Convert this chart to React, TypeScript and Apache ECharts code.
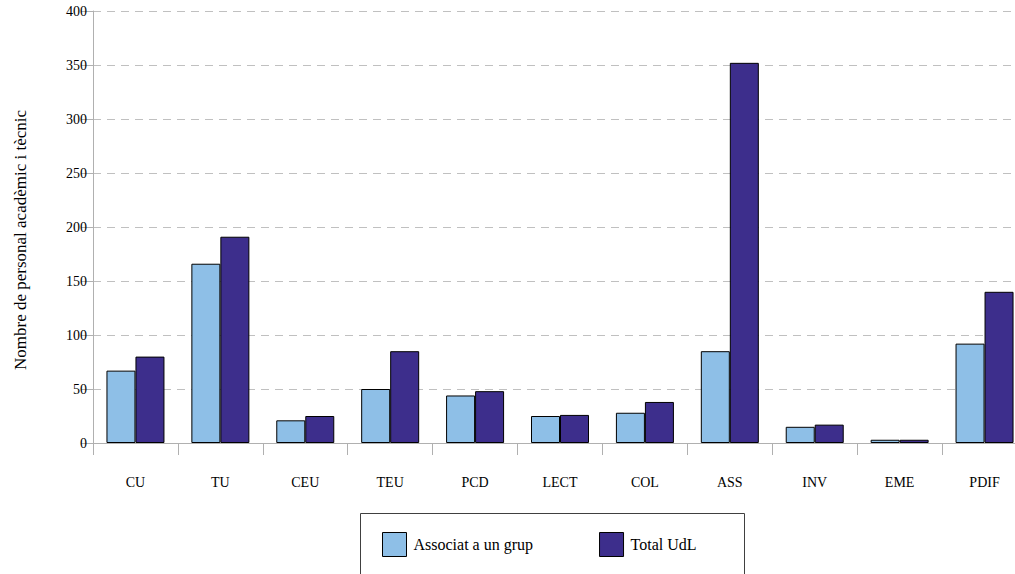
import React, { useEffect, useRef } from "react";
import * as echarts from "echarts";

const categories = ["CU", "TU", "CEU", "TEU", "PCD", "LECT", "COL", "ASS", "INV", "EME", "PDIF"];
const associat = [67, 166, 21, 50, 44, 25, 28, 85, 15, 3, 92];
const totalUdL = [80, 191, 25, 85, 48, 26, 38, 352, 17, 3, 140];
const seriesNames = ["Associat a un grup", "Total UdL"];
const yAxisTitle = "Nombre de personal acadèmic i tècnic";

const FONT = "Liberation Serif";

export default function App() {
  const ref = useRef<HTMLDivElement>(null);
  useEffect(() => {
    if (!ref.current) return;
    const chart = echarts.init(ref.current, null, { renderer: "svg" });
    chart.setOption({
      animation: false,
      backgroundColor: "#ffffff",
      textStyle: { fontFamily: FONT, color: "#000" },
      grid: { left: 93, top: 11, width: 934, height: 432, containLabel: false, outerBoundsMode: "none" },
      legend: {
        left: 377,
        top: 527,
        itemWidth: 24,
        itemHeight: 24,
        itemGap: 66,
        icon: "rect",
        data: seriesNames,
        textStyle: { fontFamily: FONT, fontSize: 16, color: "#000", padding: [0, 0, 0, 2] },
        itemStyle: { borderColor: "#000", borderWidth: 1 },
      },
      graphic: [
        {
          type: "rect",
          left: 358,
          top: 511,
          shape: { width: 384, height: 100 },
          style: { fill: "none", stroke: "#404040", lineWidth: 1 },
          silent: true,
        },
        {
          type: "text",
          rotation: Math.PI / 2,
          x: 20,
          y: 240,
          style: {
            text: yAxisTitle,
            fontFamily: FONT,
            fontSize: 17,
            fill: "#000",
            align: "center",
            verticalAlign: "middle",
          },
        },
      ],
      xAxis: {
        type: "category",
        data: categories,
        axisLine: { show: true, lineStyle: { color: "#b0b0b0", width: 1 } },
        axisTick: { show: true, length: 12, alignWithLabel: false, lineStyle: { color: "#b0b0b0" } },
        axisLabel: { fontFamily: FONT, fontSize: 14, color: "#000", margin: 32 },
        splitLine: { show: false },
      },
      yAxis: {
        type: "value",
        min: 0,
        max: 400,
        interval: 50,
        axisLine: { show: true, lineStyle: { color: "#b0b0b0", width: 1 } },
        axisTick: { show: true, length: 12, lineStyle: { color: "#b0b0b0" } },
        axisLabel: { fontFamily: FONT, fontSize: 14, color: "#000", margin: 6 },
        splitLine: { show: true, lineStyle: { color: "#c0c0c0", width: 1, type: [8, 6] } },
      },
      series: [
        {
          name: seriesNames[0],
          type: "bar",
          data: associat,
          barWidth: 29,
          barGap: "0%",
          itemStyle: { color: "#8EBFE7", borderColor: "#000", borderWidth: 1 },
        },
        {
          name: seriesNames[1],
          type: "bar",
          data: totalUdL,
          barWidth: 29,
          barGap: "0%",
          itemStyle: { color: "#3D2E8C", borderColor: "#000", borderWidth: 1 },
        },
      ],
    });
    return () => chart.dispose();
  }, []);
  return (
    <div
      ref={ref}
      style={{ position: "fixed", left: 0, top: 0, width: 1015, height: 574, background: "#fff" }}
    />
  );
}
